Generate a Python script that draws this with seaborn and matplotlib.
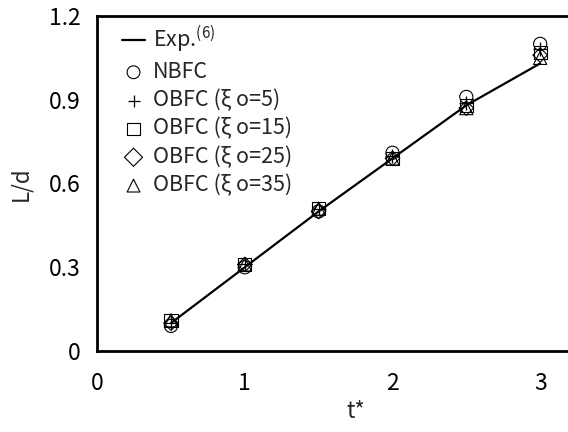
import numpy as np
import pandas as pd
import matplotlib
matplotlib.use("Agg")
import matplotlib.pyplot as plt
import seaborn as sns

# --- data ---
t_star = [0.5, 1.0, 1.5, 2.0, 2.5, 3.0]
exp_ld = [0.10, 0.30, 0.50, 0.69, 0.88, 1.03]
nbfc_ld = [0.09, 0.30, 0.50, 0.71, 0.91, 1.10]
obfc5_ld = [0.10, 0.31, 0.51, 0.70, 0.89, 1.08]
obfc15_ld = [0.11, 0.31, 0.51, 0.69, 0.88, 1.07]
obfc25_ld = [0.10, 0.31, 0.50, 0.69, 0.87, 1.06]
obfc35_ld = [0.11, 0.31, 0.51, 0.69, 0.87, 1.05]

x_ticks = [0, 1, 2, 3]
y_ticks = [0, 0.3, 0.6, 0.9, 1.2]
y_tick_labels = ["0", "0.3", "0.6", "0.9", "1.2"]

sns.set_theme(style="white")
plt.rcParams['font.family'] = ['Noto Sans CJK JP', 'DejaVu Sans']
plt.rcParams['mathtext.fontset'] = 'custom'
plt.rcParams['mathtext.rm'] = 'Noto Sans CJK JP'

fig = plt.figure(figsize=(5.68, 4.32), dpi=100)
ax = fig.add_axes([0.171, 0.1875, 0.91, 0.7755])

# experiment line
sns.lineplot(x=t_star, y=exp_ld, ax=ax, color='black', linewidth=1.6,
             label='Exp.$^{\\mathregular{(6)}}$')

# simulation markers
series = [
    ("NBFC", nbfc_ld, 'o'),
    ("OBFC (ξ o=5)", obfc5_ld, '+'),
    ("OBFC (ξ o=15)", obfc15_ld, 's'),
    ("OBFC (ξ o=25)", obfc25_ld, 'D'),
    ("OBFC (ξ o=35)", obfc35_ld, '^'),
]
for name, vals, mk in series:
    if mk == '+':
        sns.scatterplot(x=t_star, y=vals, ax=ax, marker=mk, s=110,
                        color='black', linewidth=0.9, label=name)
    else:
        size = 90 if mk != 'D' else 55
        sns.scatterplot(x=t_star, y=vals, ax=ax, marker=mk, s=size,
                        facecolors='none', edgecolor='black', linewidth=0.8,
                        label=name)

ax.set_xlim(0, 3.5)
ax.set_ylim(0, 1.2)
ax.set_xticks(x_ticks)
ax.set_yticks(y_ticks)
ax.set_yticklabels(y_tick_labels)
ax.tick_params(direction='in', length=5, width=1, color='#555555',
               labelsize=16.5, labelcolor='black')
ax.tick_params(axis='y', pad=12)
ax.tick_params(axis='x', pad=15)
ax.set_xlabel('t*', fontsize=16, labelpad=4)
ax.set_ylabel('L/d', fontsize=16, labelpad=12)

for side in ['left', 'bottom', 'top', 'right']:
    ax.spines[side].set_color('black')
    ax.spines[side].set_linewidth(2)

leg = ax.legend(loc='upper left', frameon=False, fontsize=15.5,
                labelspacing=0.28, handlelength=1.1, handletextpad=0.35,
                borderaxespad=0.5, bbox_to_anchor=(0.01, 1.035))
for h in leg.legend_handles:
    try:
        h.set_sizes([85])
    except AttributeError:
        pass

fig.savefig('out.png', dpi=100)
